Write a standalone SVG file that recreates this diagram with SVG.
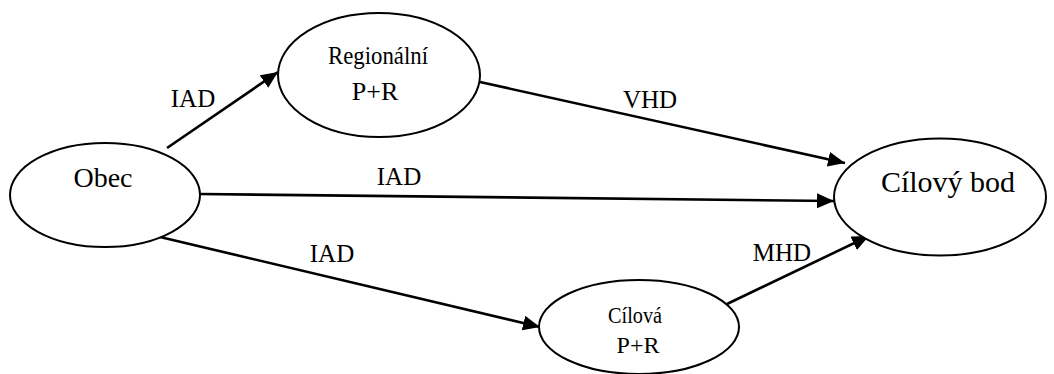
<svg xmlns="http://www.w3.org/2000/svg" width="1054" height="374" viewBox="0 0 1054 374" font-family="Liberation Serif, DejaVu Serif, serif">
<style>
.node ellipse{fill:#fff;stroke:#000;stroke-width:2}
text{font-family:'Liberation Serif','DejaVu Serif',serif;fill:#000;text-anchor:middle}
.lbl{font-size:25px}
.edge{stroke:#000;stroke-width:2.6;fill:none;marker-end:url(#arr)}
</style>
<defs>
<marker id="arr" markerUnits="userSpaceOnUse" markerWidth="18" markerHeight="15" refX="17" refY="7.5" orient="auto">
<path d="M0,0 L17,7.5 L0,15 z" fill="#000"/>
</marker>
</defs>
<rect width="1054" height="374" fill="#fff"/>
<g id="connectors">
<line class="edge" x1="167" y1="148" x2="278" y2="72"/>
<line class="edge" x1="480" y1="82" x2="845" y2="163"/>
<line class="edge" x1="200" y1="194" x2="834" y2="201"/>
<line class="edge" x1="160" y1="237" x2="540" y2="327"/>
<line class="edge" x1="727" y1="304" x2="869" y2="236"/>
<text class="lbl" x="193" y="107">IAD</text>
<text class="lbl" x="650" y="108">VHD</text>
<text class="lbl" x="399" y="185">IAD</text>
<text class="lbl" x="332" y="262">IAD</text>
<text class="lbl" x="782" y="261">MHD</text>
</g>
<g id="obec" class="node">
<ellipse cx="105" cy="195" rx="95" ry="52"/>
<text x="103" y="187" font-size="28">Obec</text>
</g>
<g id="regionalni" class="node">
<ellipse cx="379" cy="75" rx="101" ry="62"/>
<text x="378" y="64" font-size="25" textLength="100" lengthAdjust="spacingAndGlyphs">Regionální</text>
<text x="375" y="100" font-size="26">P+R</text>
</g>
<g id="cilovy-bod" class="node">
<ellipse cx="940" cy="197" rx="106" ry="58.5"/>
<text x="948" y="192" font-size="30">Cílový bod</text>
</g>
<g id="cilova" class="node">
<ellipse cx="639" cy="327" rx="100" ry="47"/>
<text x="635" y="323" font-size="23" textLength="54" lengthAdjust="spacingAndGlyphs">Cílová</text>
<text x="638" y="353" font-size="24">P+R</text>
</g>
</svg>
